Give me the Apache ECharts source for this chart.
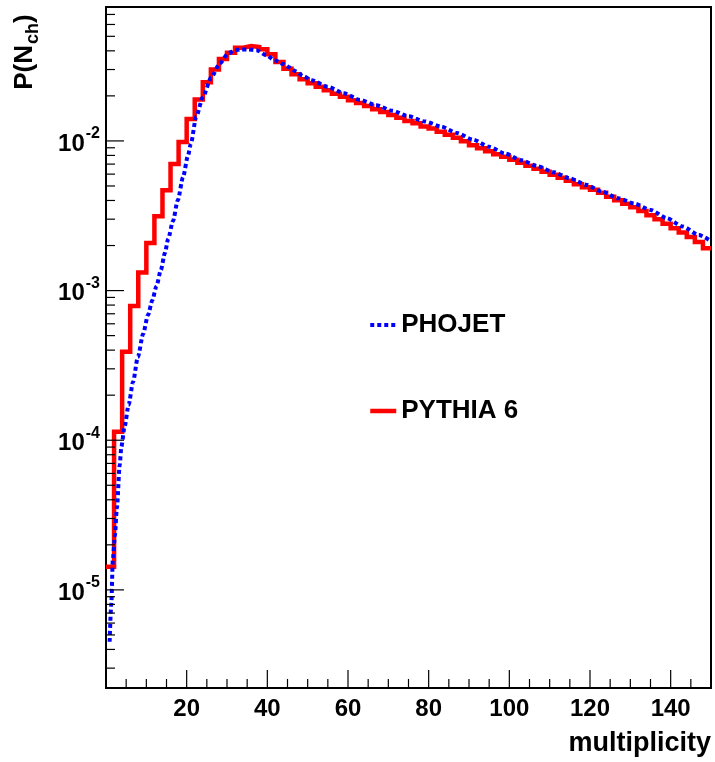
<!DOCTYPE html>
<html>
<head>
<meta charset="utf-8">
<script src="https://cdn.jsdelivr.net/npm/echarts@6/dist/echarts.min.js"></script>
<style>
html,body{margin:0;padding:0;background:#fff;}
#chart{width:715px;height:762px;}
</style>
</head>
<body>
<div id="chart"></div>
<script>
// ---------------- data ----------------
const seriesNames = ['PHOJET', 'PYTHIA 6'];

// PYTHIA 6 histogram: bin low edges (width 2) and bin contents
const redBinLow = [0,2,4,6,8,10,12,14,16,18,20,22,24,26,28,30,32,34,36,38,40,42,44,46,48,
  50,52,54,56,58,60,62,64,66,68,70,72,74,76,78,80,82,84,86,88,90,92,94,96,98,
  100,102,104,106,108,110,112,114,116,118,120,122,124,126,128,130,132,134,136,138,140,142,144,146,148];
const redLastEdge = 150;
const redValues = [1.43e-5,1.14e-4,3.90e-4,7.88e-4,1.32e-3,2.08e-3,3.14e-3,4.69e-3,7.00e-3,9.85e-3,
  1.40e-2,1.89e-2,2.47e-2,3.00e-2,3.53e-2,3.89e-2,4.20e-2,4.31e-2,4.24e-2,4.09e-2,
  3.79e-2,3.37e-2,3.04e-2,2.79e-2,2.58e-2,2.43e-2,2.30e-2,2.18e-2,2.07e-2,1.97e-2,
  1.87e-2,1.79e-2,1.71e-2,1.63e-2,1.56e-2,1.49e-2,1.43e-2,1.36e-2,1.31e-2,1.25e-2,
  1.21e-2,1.15e-2,1.10e-2,1.05e-2,9.95e-3,9.36e-3,8.94e-3,8.54e-3,8.15e-3,7.85e-3,
  7.49e-3,7.15e-3,6.83e-3,6.52e-3,6.22e-3,5.94e-3,5.68e-3,5.42e-3,5.14e-3,4.91e-3,
  4.72e-3,4.51e-3,4.24e-3,4.02e-3,3.81e-3,3.61e-3,3.40e-3,3.19e-3,3.00e-3,2.80e-3,
  2.61e-3,2.44e-3,2.28e-3,2.11e-3,1.92e-3];

// PHOJET curve
const blueX = [0.9,1.3,1.7,2.2,2.7,3.4,3.8,4.6,5.6,6.7,7.9,9.2,10.4,11.5,12.5,13.6,14.6,15.4,16.6,17.8,
  19.1,20.3,21.0,22.4,24.0,26.1,28.2,30.2,31.9,33.6,35.2,37.3,39.8,41.8,43.9,45.5,47,49,51,55,
  59,63,67,71,75,79,83,87,91,95,99,103,107,111,115,119,123,127,131,135,139,143,147,150];
const blueValues = [4.50e-6,7.94e-6,1.59e-5,2.30e-5,3.53e-5,6.84e-5,9.01e-5,1.23e-4,1.72e-4,2.45e-4,
  3.60e-4,5.12e-4,6.86e-4,8.63e-4,1.07e-3,1.37e-3,1.78e-3,2.21e-3,2.91e-3,4.02e-3,
  5.73e-3,7.91e-3,9.51e-3,1.46e-2,1.96e-2,2.66e-2,3.29e-2,3.82e-2,4.04e-2,4.08e-2,
  4.09e-2,4.04e-2,3.73e-2,3.46e-2,3.27e-2,3.10e-2,2.92e-2,2.70e-2,2.54e-2,2.30e-2,
  2.08e-2,1.88e-2,1.73e-2,1.59e-2,1.46e-2,1.35e-2,1.25e-2,1.13e-2,1.02e-2,9.13e-3,
  8.23e-3,7.43e-3,6.78e-3,6.18e-3,5.62e-3,5.10e-3,4.58e-3,4.14e-3,3.81e-3,3.46e-3,
  3.05e-3,2.68e-3,2.35e-3,2.14e-3];

// axes
const xMin = 0, xMax = 150;
const yMin = 2.21e-6, yMax = 0.0785;
const xMajorTicks = [20,40,60,80,100,120,140];
const xMinorTicks = [5,10,15,25,30,35,45,50,55,65,70,75,85,90,95,105,110,115,125,130,135,145];
const yMajorTicks = [1e-5,1e-4,1e-3,1e-2];
const yMinorTicks = [3e-6,4e-6,5e-6,6e-6,7e-6,8e-6,9e-6,
  2e-5,3e-5,4e-5,5e-5,6e-5,7e-5,8e-5,9e-5,
  2e-4,3e-4,4e-4,5e-4,6e-4,7e-4,8e-4,9e-4,
  2e-3,3e-3,4e-3,5e-3,6e-3,7e-3,8e-3,9e-3,
  2e-2,3e-2,4e-2,5e-2,6e-2,7e-2];
const xTitle = 'multiplicity';

// ---------------- chart ----------------
const FONT = '"Liberation Sans", Arial, Helvetica, sans-serif';
const MAJOR_LEN = 18, MINOR_LEN = 9;

const redData = redBinLow.map((x, i) => [x, redValues[i]]);
redData.push([redLastEdge, redValues[redValues.length - 1]]);
const blueData = blueX.map((x, i) => [x, blueValues[i]]);

const yTickData = yMajorTicks.map(v => [xMin, v, MAJOR_LEN]).concat(yMinorTicks.map(v => [xMin, v, MINOR_LEN]));
const xTickData = xMajorTicks.map(v => [v, yMin, MAJOR_LEN]).concat(xMinorTicks.map(v => [v, yMin, MINOR_LEN]));

const chart = echarts.init(document.getElementById('chart'), null, {renderer: 'canvas'});
chart.setOption({
  animation: false,
  backgroundColor: '#fff',
  grid: {left: 106, top: 7, right: 4, bottom: 74, show: true, borderColor: '#000', borderWidth: 2, backgroundColor: 'transparent'},
  xAxis: {
    type: 'value', min: xMin, max: xMax, interval: 20,
    axisLine: {show: false}, axisTick: {show: false}, splitLine: {show: false},
    axisLabel: {
      margin: 9, color: '#000', fontSize: 24, fontWeight: 'bold', fontFamily: FONT,
      showMinLabel: false, showMaxLabel: false,
      formatter: v => (v > xMin && v < xMax && v % 20 === 0) ? String(v) : ''
    }
  },
  yAxis: {
    type: 'log', logBase: 10, min: yMin, max: yMax,
    axisLine: {show: false}, axisTick: {show: false}, splitLine: {show: false}, minorTick: {show: false},
    axisLabel: {
      margin: 6, color: '#000', showMinLabel: false, showMaxLabel: false,
      formatter: function (v) {
        const l = Math.log10(v);
        const e = Math.round(l);
        if (Math.abs(l - e) > 1e-6) return '';
        return '{b|10}{s|' + e + '}';
      },
      rich: {
        b: {fontSize: 24, fontWeight: 'bold', fontFamily: FONT, color: '#000', lineHeight: 30, verticalAlign: 'bottom'},
        s: {fontSize: 16, fontWeight: 'bold', fontFamily: FONT, color: '#000', lineHeight: 30, verticalAlign: 'top', padding: [0, 0, 0, 1]}
      }
    }
  },
  legend: {
    data: [
      {name: seriesNames[0], lineStyle: {width: 4, type: [4, 3], color: '#0000ff', opacity: 1}, itemStyle: {opacity: 0}},
      {name: seriesNames[1], lineStyle: {width: 4.5, color: '#ff0000', opacity: 1}, itemStyle: {opacity: 0}}
    ],
    orient: 'vertical', left: 368, top: 312, padding: 0, itemWidth: 26, itemHeight: 14, itemGap: 60,
    selectedMode: false,
    itemStyle: {opacity: 0},
    textStyle: {fontSize: 26, fontWeight: 'bold', fontFamily: FONT, color: '#000'}
  },
  series: [
    {
      name: seriesNames[1], type: 'line', data: redData, step: 'end',
      symbol: 'none', showSymbol: false, clip: true, z: 3,
      lineStyle: {color: '#ff0000', width: 4.5, join: 'miter'},
      itemStyle: {color: '#ff0000'}
    },
    {
      name: seriesNames[0], type: 'line', data: blueData, smooth: 0.25, smoothMonotone: 'x',
      symbol: 'none', showSymbol: false, clip: true, z: 4,
      lineStyle: {color: '#0000ff', width: 4, type: [4, 3], cap: 'butt'},
      itemStyle: {color: '#0000ff'}
    },
    {
      type: 'custom', name: 'yticks', silent: true, z: 5, clip: false,
      data: yTickData, encode: {x: 0, y: 1},
      renderItem: function (params, api) {
        const p = api.coord([api.value(0), api.value(1)]);
        const L = api.value(2);
        return {type: 'line', shape: {x1: p[0], y1: p[1], x2: p[0] + L, y2: p[1]}, style: {stroke: '#000', lineWidth: 1.2}};
      }
    },
    {
      type: 'custom', name: 'xticks', silent: true, z: 5, clip: false,
      data: xTickData, encode: {x: 0, y: 1},
      renderItem: function (params, api) {
        const p = api.coord([api.value(0), api.value(1)]);
        const L = api.value(2);
        return {type: 'line', shape: {x1: p[0], y1: p[1], x2: p[0], y2: p[1] - L}, style: {stroke: '#000', lineWidth: 1.2}};
      }
    }
  ],
  graphic: [
    {
      type: 'text', right: 4, top: 730,
      style: {text: xTitle, fontSize: 27, fontWeight: 'bold', fontFamily: FONT, fill: '#000'}
    },
    {
      type: 'text', x: 27, y: 52, rotation: Math.PI / 2,
      style: {
        text: '{a|P(N}{c|ch}{a|)}', align: 'center', verticalAlign: 'middle',
        rich: {
          a: {fontSize: 26, fontWeight: 'bold', fontFamily: FONT, fill: '#000', lineHeight: 30, verticalAlign: 'top'},
          c: {fontSize: 18, fontWeight: 'bold', fontFamily: FONT, fill: '#000', lineHeight: 30, verticalAlign: 'bottom', padding: [14, 0, 0, 1]}
        }
      }
    }
  ]
});
</script>
</body>
</html>
